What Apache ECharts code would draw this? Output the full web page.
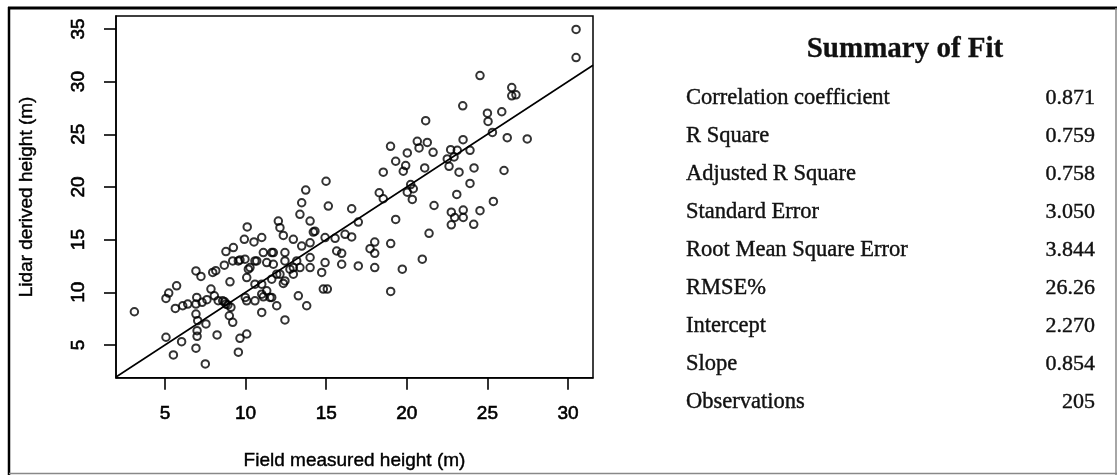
<!DOCTYPE html>
<html>
<head>
<meta charset="utf-8">
<script src="https://cdn.jsdelivr.net/npm/echarts@6/dist/echarts.min.js"></script>
<style>
html,body{margin:0;padding:0;background:#fff;}
#chart{width:1117px;height:475px;}
</style>
</head>
<body>
<div id="chart"></div>
<script>
// Field measured height (m), Lidar derived height (m)
const points = [
[3.1,8.15],[5.06,5.73],[5.52,4.05],[6.03,5.31],[5.06,9.42],[5.23,9.92],[5.72,10.61],[5.64,8.47],[6.1,8.72],[6.41,8.88],
[6.92,12.03],[7.23,11.5],[6.97,9.51],[6.92,8.88],[6.92,7.93],[7.03,7.3],[7.54,6.99],[6.99,6.35],[6.99,5.82],[6.92,4.69],
[7.5,3.2],[7.96,11.88],[8.15,12.05],[7.85,10.3],[8.06,9.66],[8.23,5.95],[7.3,9.05],[7.6,9.3],[8.3,9.2],[8.7,9.1],[8.9,8.8],
[9.03,10.99],[8.78,13.86],[9.24,14.24],[8.68,12.57],[9.2,12.98],[9.65,13.07],[8.58,9.19],[8.78,8.88],[9.09,8.57],
[8.99,7.77],[9.2,7.15],[9.65,5.63],[10.07,6.04],[9.55,4.31],[9.92,15.03],[9.98,9.51],[9.55,12.98],[9.96,13.14],
[10.1,16.2],[10.52,14.78],[11.0,15.2],[10.07,11.4],[10.58,10.77],[10.17,12.19],[10.69,12.98],[10.07,9.19],[10.58,9.19],
[10.27,12.35],[10.58,12.98],[11.0,9.82],[11.0,8.09],[11.0,10.77],[11.1,13.77],[11.31,12.82],[11.62,13.77],[11.62,9.51],
[11.31,10.14],[11.93,8.72],[12.44,7.37],[11.72,12.66],[11.93,11.72],[12.34,10.84],[11.62,11.24],[11.51,9.51],[11.1,9.57],
[12.03,16.76],[12.13,16.13],[12.34,15.4],[12.44,13.77],[12.44,12.98],[12.13,11.72],[12.44,11.08],[12.75,12.19],
[12.96,12.35],[12.96,15.03],[12.96,11.72],[11.72,13.77],[13.37,17.4],[13.48,18.5],[13.73,19.7],[14.0,16.76],[14.3,15.8],
[13.48,14.39],[14.0,14.7],[13.17,12.98],[14.0,13.3],[13.37,12.35],[14.0,12.35],[13.27,9.66],[13.79,8.72],[14.2,15.72],
[14.72,11.88],[14.82,10.3],[15.07,10.3],[15.13,18.18],[14.99,20.54],[14.93,15.19],[15.55,15.12],[14.93,12.82],
[15.65,13.92],[15.96,13.7],[15.96,12.66],[16.17,15.5],[16.58,15.25],[16.58,17.93],[16.99,16.67],[16.99,12.5],
[17.72,14.14],[18.01,14.77],[18.01,13.7],[18.01,12.35],[19.0,14.62],[19.72,12.19],[20.96,13.14],[19.0,10.08],
[18.29,19.45],[18.54,18.88],[19.31,16.92],[18.54,21.4],[18.99,23.86],[19.31,22.44],
[20.03,23.23],[19.93,22.03],[19.78,21.49],[20.65,24.33],[20.76,23.7],[21.27,24.23],[21.63,23.29],[21.11,21.81],
[21.17,26.29],[20.24,20.23],[20.03,19.5],[20.4,19.83],[20.34,18.81],[21.69,18.24],[21.38,15.6],
[22.72,23.54],[23.13,23.48],[23.49,24.49],[23.92,23.48],[22.51,22.66],[22.93,22.85],[22.62,21.96],[23.24,21.4],
[24.17,21.81],[23.92,20.33],[23.1,19.29],[22.76,17.6],[22.97,17.1],[22.76,16.4],[23.5,17.8],[23.5,17.1],[24.15,16.45],
[24.54,17.75],[23.47,27.7],[24.54,30.57],[25.0,27.0],[25.04,26.22],[25.31,25.18],[25.89,27.14],[26.23,24.68],
[27.47,24.56],[26.03,21.56],[25.37,18.62],[26.51,29.44],[26.51,28.65],[26.77,28.75],[30.5,34.96],[30.5,32.28]
];
const xTicks = [5, 10, 15, 20, 25, 30];
const yTicks = [5, 10, 15, 20, 25, 30, 35];
const xRange = [1.96, 31.55];
const yRange = [1.88, 36.23];
const fitTitle = 'Summary of Fit';
const fitLabels = ['Correlation coefficient','R Square','Adjusted R Square','Standard Error','Root Mean Square Error','RMSE%','Intercept','Slope','Observations'];
const fitValues = ['0.871','0.759','0.758','3.050','3.844','26.26','2.270','0.854','205'];

// 1:1 reference line across the axis range
const refLine = [[xRange[0], xRange[0]], [xRange[1], xRange[1]]];

const chart = echarts.init(document.getElementById('chart'), null, {renderer: 'canvas'});

const serif = '"Liberation Serif", "DejaVu Serif", serif';
const tableGraphics = [{
  type: 'text',
  style: {text: fitTitle, x: 905, y: 50, align: 'center', verticalAlign: 'middle',
          font: 'bold 29px ' + serif, fill: '#111', stroke: '#111', lineWidth: 0.3}
}];
fitLabels.forEach((lab, i) => {
  const y = 98 + i * 38;
  tableGraphics.push({
    type: 'text',
    style: {text: lab, x: 686, y: y, align: 'left', verticalAlign: 'middle',
            font: '22.5px ' + serif, fill: '#111', stroke: '#111', lineWidth: 0.4}
  });
  tableGraphics.push({
    type: 'text',
    style: {text: fitValues[i], x: 1095, y: y, align: 'right', verticalAlign: 'middle',
            font: '22px ' + serif, fill: '#111', stroke: '#111', lineWidth: 0.4}
  });
});

const frame = [
  {type: 'line', shape: {x1: 8, y1: 8, x2: 1117, y2: 8}, style: {stroke: '#000', lineWidth: 3}},
  {type: 'line', shape: {x1: 9, y1: 7, x2: 9, y2: 475}, style: {stroke: '#000', lineWidth: 2.5}},
  {type: 'line', shape: {x1: 9, y1: 473.5, x2: 1117, y2: 473.5}, style: {stroke: '#888', lineWidth: 1.5}},
  {type: 'line', shape: {x1: 1116, y1: 8, x2: 1116, y2: 475}, style: {stroke: '#888', lineWidth: 1.5}}
];

const axisFont = {fontFamily: '"Liberation Sans", Arial, sans-serif', fontSize: 19, color: '#000',
                  textBorderColor: '#000', textBorderWidth: 0.6};

chart.setOption({
  animation: false,
  backgroundColor: '#fff',
  grid: {left: 116, top: 16, width: 477, height: 363, show: true, borderColor: '#000', borderWidth: 1.5, backgroundColor: 'transparent'},
  xAxis: {
    type: 'value', min: xRange[0], max: xRange[1],
    name: 'Field measured height (m)', nameLocation: 'middle', nameGap: 73,
    nameTextStyle: Object.assign({}, axisFont, {textBorderWidth: 0.4}),
    axisLine: {show: true, lineStyle: {color: '#000', width: 1.5}},
    axisTick: {show: true, customValues: xTicks, length: 12, lineStyle: {color: '#000', width: 1.6}},
    axisLabel: Object.assign({customValues: xTicks, margin: 26}, axisFont),
    splitLine: {show: false}
  },
  yAxis: {
    type: 'value', min: yRange[0], max: yRange[1],
    name: 'Lidar derived height (m)', nameLocation: 'middle', nameGap: 80,
    nameTextStyle: Object.assign({}, axisFont, {textBorderWidth: 0.4}),
    axisLine: {show: true, lineStyle: {color: '#000', width: 1.5}},
    axisTick: {show: true, customValues: yTicks, length: 12, lineStyle: {color: '#000', width: 1.6}},
    axisLabel: Object.assign({customValues: yTicks, margin: 28, rotate: 90}, axisFont),
    splitLine: {show: false}
  },
  series: [
    {
      type: 'scatter', data: points, symbol: 'circle', symbolSize: 7.5,
      itemStyle: {color: 'rgba(0,0,0,0)', borderColor: '#000', borderWidth: 2},
      z: 3
    },
    {
      type: 'line', data: refLine, symbol: 'none', clip: true,
      lineStyle: {color: '#000', width: 1.6}, z: 2
    }
  ],
  graphic: frame.concat(tableGraphics)
});
</script>
</body>
</html>
